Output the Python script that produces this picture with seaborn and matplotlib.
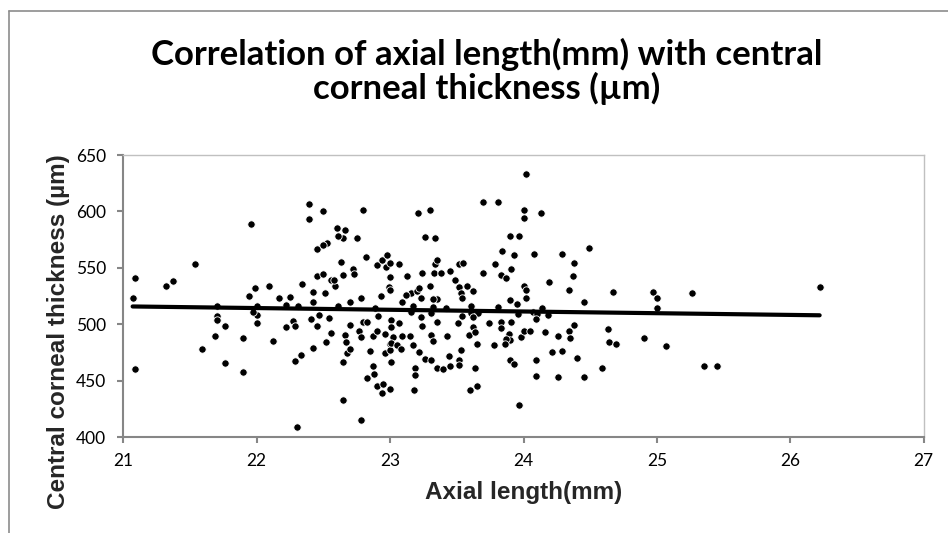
import numpy as np
import pandas as pd
import matplotlib
matplotlib.use("Agg")
import matplotlib.pyplot as plt
from matplotlib.lines import Line2D
import seaborn as sns

# Axial length (mm) values
axial_length = [
    21.09, 21.07, 21.09, 21.32, 21.37, 21.54, 21.59, 21.96, 21.70, 21.70, 21.70, 21.69, 21.76, 21.76,
    21.90, 21.90, 21.94, 21.99, 22.00, 22.00, 22.00, 21.97, 22.09, 22.12, 22.17, 22.22, 22.25, 22.22,
    22.27, 22.29, 22.31, 22.34, 22.29, 22.33, 22.30, 22.39, 22.39, 22.42, 22.42, 22.41, 22.42,
    22.50, 22.45, 22.53, 22.50, 22.60, 22.66, 22.65, 22.61, 22.75, 22.80, 22.63, 22.45, 22.50, 22.56,
    22.59, 22.58, 22.65, 22.72, 22.73, 22.51, 22.61, 22.70, 22.78, 22.47, 22.45, 22.54, 22.56, 22.52,
    22.66, 22.67, 22.68, 22.70, 22.65, 22.70, 22.77, 22.78, 22.80, 22.83, 22.85, 22.87, 22.90, 22.96,
    22.87, 22.88, 22.83, 22.90, 22.95, 22.94, 23.00, 22.65, 22.78, 22.91, 22.89, 22.93, 22.90, 22.94,
    22.98, 22.97, 23.00, 23.00, 22.99, 23.00, 22.82, 23.01, 23.01, 23.00, 22.96, 23.00, 23.01,
    23.21, 23.30, 23.26, 23.34, 23.70, 23.07, 23.13, 23.24, 23.34, 23.33, 23.38, 23.45, 23.52, 23.30,
    23.49, 23.52, 23.58, 23.53, 23.62, 23.70, 23.16, 23.20, 23.23, 23.22, 23.09, 23.12, 23.17, 23.16,
    23.35, 23.32, 23.32, 23.31, 23.42, 23.54, 23.61, 23.61, 23.54, 23.66, 23.74, 23.07, 23.23, 23.24,
    23.35, 23.51, 23.62, 23.62, 23.31, 23.32, 23.02, 23.01, 23.05, 23.09, 23.15, 23.17, 23.08, 23.43,
    23.59, 23.64, 23.65, 23.22, 23.26, 23.31, 23.35, 23.40, 23.45, 23.44, 23.53, 23.52, 23.52, 23.19,
    23.19, 23.18, 23.64, 23.60, 23.65, 23.35, 23.55,
    24.02, 23.81, 24.00, 24.00, 24.13, 23.90, 23.97, 23.84, 23.93, 24.08, 24.29, 24.38, 24.37, 23.79,
    23.91, 23.83, 23.87, 24.19, 24.00, 24.02, 24.34, 24.02, 23.90, 23.95, 23.81, 24.14, 24.07, 24.10,
    24.18, 23.96, 24.45, 23.83, 23.91, 23.83, 24.09, 23.89, 23.90, 23.87, 23.86, 23.78, 23.98, 24.00,
    24.05, 24.16, 24.26, 24.34, 24.38, 24.35, 24.21, 24.29, 24.40, 23.90, 23.93, 24.09, 24.09, 24.26,
    24.45, 23.97,
    24.49, 24.67, 24.97, 25.00, 25.00, 25.26, 24.63, 24.64, 24.69, 24.90, 25.07, 24.59, 25.35, 25.45,
    26.22,
]

# Central corneal thickness (um) values
cct = [
    541.3, 523.2, 460.3, 534.2, 538.3, 553.1, 478.3, 588.5, 516.4, 507.3, 503.7, 489.2, 498.4, 465.3,
    487.5, 457.3, 525.3, 532.1, 516.4, 508.2, 501.1, 511.1, 534.2, 485.4, 523.5, 517.0, 524.1, 497.2,
    503.1, 498.4, 516.4, 535.3, 467.4, 472.4, 408.6, 606.3, 593.0, 528.3, 519.4, 504.3, 479.2,
    600.4, 566.4, 571.7, 570.2, 585.0, 583.2, 576.1, 578.2, 576.1, 601.2, 555.4, 542.7, 544.2, 539.2,
    533.9, 539.2, 543.3, 549.2, 544.2, 527.4, 516.1, 519.4, 523.5, 508.2, 498.4, 505.8, 492.5, 483.9,
    490.4, 483.9, 474.2, 477.7, 466.2, 499.3, 494.3, 488.4, 502.3, 502.3, 476.3, 489.5, 494.3, 491.3,
    463.2, 455.8, 452.6, 445.5, 447.0, 438.7, 442.6, 432.8, 415.1, 507.3, 514.1, 525.3, 552.5, 556.9,
    561.3, 550.4, 554.5, 542.1, 532.7, 530.3, 559.3, 503.7, 497.8, 482.1, 474.8, 477.1, 466.8,
    598.3, 601.2, 577.6, 576.1, 608.3, 553.4, 543.0, 545.1, 553.4, 545.1, 545.1, 547.2, 553.1, 533.9,
    539.2, 533.3, 533.9, 527.9, 529.4, 545.1, 527.9, 529.4, 523.5, 532.4, 520.0, 525.9, 516.1, 510.5,
    522.0, 522.0, 515.5, 509.6, 514.6, 522.9, 516.1, 509.6, 507.3, 509.6, 501.3, 501.3, 506.7, 498.7,
    502.2, 501.3, 506.7, 497.8, 490.4, 485.4, 488.9, 483.0, 481.5, 489.5, 489.5, 481.5, 477.7, 489.5,
    490.4, 493.4, 482.4, 475.6, 469.1, 468.3, 461.5, 460.3, 463.2, 472.1, 477.1, 468.3, 463.8, 461.5,
    455.0, 441.7, 461.5, 441.7, 445.5, 556.9, 554.5,
    633.2, 608.0, 601.2, 594.4, 598.3, 578.2, 578.2, 565.2, 561.3, 562.2, 562.2, 554.6, 542.7, 553.1,
    548.6, 543.3, 540.7, 537.4, 534.2, 530.3, 530.3, 523.5, 521.5, 517.9, 515.0, 514.7, 511.1, 508.7,
    508.2, 508.7, 520.0, 502.2, 502.2, 496.3, 504.3, 491.3, 486.0, 486.6, 482.2, 481.6, 488.9, 494.3,
    494.3, 493.4, 489.5, 494.3, 499.3, 487.5, 475.6, 476.2, 470.3, 468.3, 464.4, 468.3, 454.4, 453.2,
    453.2, 428.4,
    567.3, 528.3, 528.3, 523.2, 514.4, 527.4, 495.5, 484.2, 482.1, 488.1, 480.4, 461.5, 463.2, 463.2,
    533.2,
]

x_ticks = [21, 22, 23, 24, 25, 26, 27]
y_ticks = [400, 450, 500, 550, 600, 650]

title_text = "Correlation of axial length(mm) with central\ncorneal thickness (µm)"
x_label = "Axial length(mm)"
y_label = "Central corneal thickness (µm)"

df = pd.DataFrame({"axial": axial_length, "cct": cct})

sns.set_theme(style="white")
plt.rcParams["font.family"] = ["Lato", "DejaVu Sans"]

W, H = 948, 533
fig = plt.figure(figsize=(W / 100, H / 100), dpi=100)
fig.patch.set_facecolor("white")

L, R, T, B = 123.3, 923.7, 155.0, 437.0
ax = fig.add_axes([L / W, 1 - B / H, (R - L) / W, (B - T) / H])
ax.set_facecolor("white")

sns.scatterplot(data=df, x="axial", y="cct", ax=ax, color="black",
                edgecolor="white", linewidth=0.6, s=28, zorder=3)
sns.regplot(data=df, x="axial", y="cct", ax=ax, scatter=False, ci=None,
            line_kws={"color": "black", "linewidth": 3.0,
                      "solid_capstyle": "round", "zorder": 4})

ax.set_xlim(21, 27)
ax.set_ylim(400, 650)
ax.set_xticks(x_ticks)
ax.set_yticks(y_ticks)
ax.set_xticklabels([str(t) for t in x_ticks])
ax.set_yticklabels([str(t) for t in y_ticks])
ax.grid(False)

for side in ["left", "bottom"]:
    ax.spines[side].set_color("#868686")
    ax.spines[side].set_linewidth(1.5)
for side in ["top", "right"]:
    ax.spines[side].set_visible(True)
    ax.spines[side].set_color("#C0C0C0")
    ax.spines[side].set_linewidth(1.0)

ax.tick_params(axis="both", which="major", direction="out", length=4.5,
               width=1.5, color="#868686", labelsize=12.5, labelcolor="black",
               bottom=True, left=True)
ax.tick_params(axis="x", pad=7)
ax.tick_params(axis="y", pad=8)

lab_font = dict(family=["Liberation Sans", "DejaVu Sans"], weight="bold", size=17.5)
ax.set_xlabel(x_label, **lab_font)
ax.set_ylabel(y_label, **lab_font)
ax.xaxis.set_label_coords(0.5, (B - 481) / (B - T))
ax.yaxis.set_label_coords((70 - L) / (R - L), (B - 331.5) / (B - T))

fig.text(487 / W, 1 - 38 / H, title_text, ha="center", va="top",
         fontsize=25, fontweight="bold", family=["Lato", "DejaVu Sans"],
         linespacing=1.02, color="black")

# chart-area border (left and top edges visible in the reference)
fig.add_artist(Line2D([9 / W, 9 / W], [0, 1 - 11 / H], transform=fig.transFigure,
                      color="#8C8C8C", linewidth=1.2))
fig.add_artist(Line2D([9 / W, 1], [1 - 11 / H, 1 - 11 / H], transform=fig.transFigure,
                      color="#8C8C8C", linewidth=1.2))

fig.savefig("out.png", dpi=100, facecolor="white")
